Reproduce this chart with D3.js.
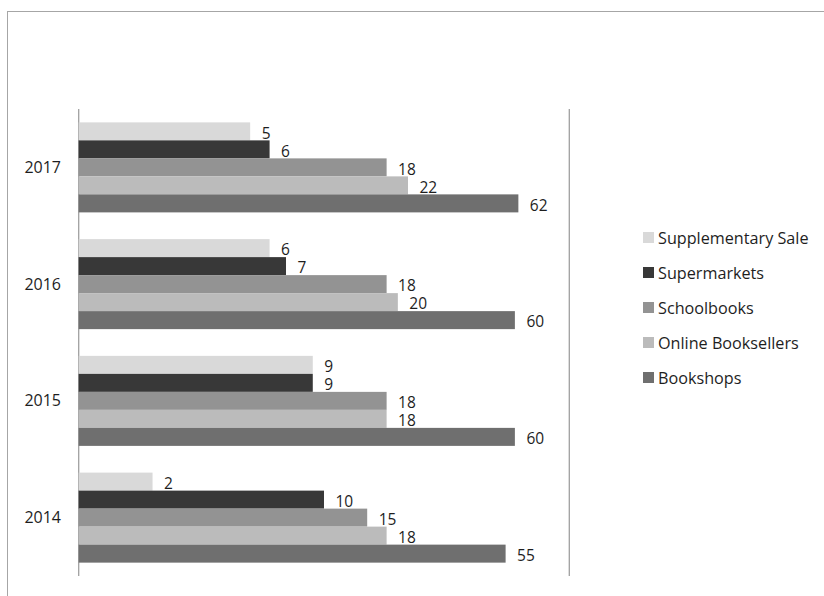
<!DOCTYPE html>
<html>
<head>
<meta charset="utf-8">
<script src="https://cdn.jsdelivr.net/npm/d3@7"></script>
<style>
  html, body { margin: 0; padding: 0; background: #fff; }
  svg { display: block; font-family: "Open Sans", "Noto Sans", sans-serif; }
</style>
</head>
<body>
<div id="chart"></div>
<script>
var WIDTH = 824;
var HEIGHT = 596;

// data
var years = ["2017", "2016", "2015", "2014"];
var seriesNames = ["Supplementary Sale", "Supermarkets", "Schoolbooks", "Online Booksellers", "Bookshops"];
var supplementary = [5, 6, 9, 2];
var supermarkets = [6, 7, 9, 10];
var schoolbooks = [18, 18, 18, 15];
var onlineBooksellers = [22, 20, 18, 18];
var bookshops = [62, 60, 60, 55];
var seriesColors = ["#d9d9d9", "#383838", "#939393", "#bbbbbb", "#6f6f6f"];

var seriesValues = [supplementary, supermarkets, schoolbooks, onlineBooksellers, bookshops];

var rows = [];
years.forEach(function (y, i) {
	seriesNames.forEach(function (s, j) {
		rows.push({ year: y, series: s, value: seriesValues[j][i], color: seriesColors[j] });
	});
});

var svg = d3.select("#chart").append("svg")
	.attr("width", WIDTH).attr("height", HEIGHT);

// outer frame (runs off the right/bottom edge)
svg.append("rect")
	.attr("x", 7.5).attr("y", 11.5)
	.attr("width", WIDTH + 20).attr("height", HEIGHT + 20)
	.attr("fill", "none")
	.attr("stroke", "#a6a6a6")
	.attr("stroke-width", 1);

// scales
var x = d3.scaleLog().domain([1, 100]).range([78.7, 569.3]);
var y = d3.scaleBand().domain(years).range([109, 576])
	.paddingInner(0.229).paddingOuter(0.1145);
var ySub = d3.scaleBand().domain(seriesNames).range([0, y.bandwidth()]);

// axis lines
[x.range()[0], x.range()[1]].forEach(function (px) {
	svg.append("line")
		.attr("x1", px).attr("x2", px)
		.attr("y1", y.range()[0]).attr("y2", y.range()[1])
		.attr("stroke", "#a0a0a0")
		.attr("stroke-width", 1.3);
});

// bars
var bars = svg.append("g");
bars.selectAll("rect")
	.data(rows)
	.enter()
	.append("rect")
	.attr("x", x(1))
	.attr("y", function (d) { return y(d.year) + ySub(d.series); })
	.attr("width", function (d) { return x(d.value) - x(1); })
	.attr("height", ySub.bandwidth())
	.attr("fill", function (d) { return d.color; });

// value labels
bars.selectAll("text")
	.data(rows)
	.enter()
	.append("text")
	.attr("x", function (d) { return x(d.value) + 11.5; })
	.attr("y", function (d) { return y(d.year) + ySub(d.series) + ySub.bandwidth() / 2 + 7.3; })
	.attr("fill", "#1e1e1e")
	.style("font-size", "15.5px")
	.text(function (d) { return d.value; });

// category labels
svg.append("g").selectAll("text")
	.data(years)
	.enter()
	.append("text")
	.attr("x", 61)
	.attr("y", function (d) { return y(d) + y.bandwidth() / 2 + 5.5; })
	.attr("text-anchor", "end")
	.attr("fill", "#1e1e1e")
	.style("font-size", "16px")
	.text(function (d) { return d; });

// legend
var legend = svg.append("g").attr("transform", "translate(643,232)");
var items = legend.selectAll("g")
	.data(seriesNames)
	.enter()
	.append("g")
	.attr("transform", function (d, i) { return "translate(0," + (i * 35) + ")"; });
items.append("rect")
	.attr("width", 11).attr("height", 11)
	.attr("fill", function (d, i) { return seriesColors[i]; });
items.append("text")
	.attr("x", 15)
	.attr("y", 11.5)
	.attr("fill", "#1e1e1e")
	.style("font-size", "16.2px")
	.text(function (d) { return d; });
</script>
</body>
</html>
